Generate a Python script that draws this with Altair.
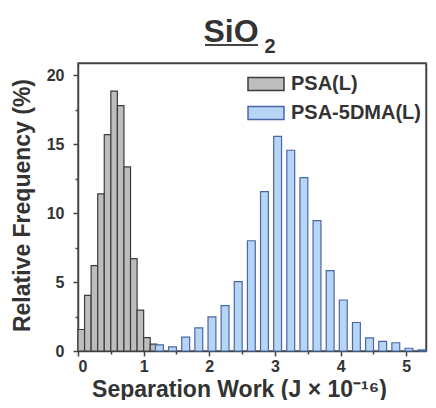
import altair as alt
import pandas as pd

# ---- data ----
series_names = ["PSA(L)", "PSA-5DMA(L)"]

gray_centers = [0.05, 0.15, 0.25, 0.35, 0.45, 0.55, 0.65, 0.75, 0.85, 0.95, 1.05, 1.15]
gray_values = [1.56, 4.04, 6.2, 11.4, 15.7, 18.86, 17.8, 13.36, 6.7, 2.97, 0.97, 0.5]

blue_centers = [1.24, 1.44, 1.64, 1.84, 2.04, 2.24, 2.44, 2.64, 2.84, 3.04, 3.24,
                3.44, 3.64, 3.84, 4.04, 4.24, 4.44, 4.64, 4.84, 5.04, 5.24]
blue_values = [0.45, 0.3, 1.0, 1.68, 2.48, 3.3, 5.04, 8.0, 11.56, 15.57, 14.57,
               12.58, 9.46, 5.84, 3.7, 2.07, 0.95, 0.7, 0.6, 0.2, 0.08]

x_ticks = [0, 1, 2, 3, 4, 5]
x_minor = [0.5, 1.5, 2.5, 3.5, 4.5]
y_ticks = [0, 5, 10, 15, 20]
y_minor = [2.5, 7.5, 12.5, 17.5]

title_main = "SiO"
title_sub = "2"
x_title = "Separation Work (J \u00d7 10\u207b\u00b9\u2076)"
y_title = "Relative Frequency (%)"

FONT = "Liberation Sans"
TXT = "#333333"
AX = "#444444"

df = pd.DataFrame({
    "center": gray_centers + blue_centers,
    "freq": gray_values + blue_values,
    "series": [series_names[0]] * len(gray_centers) + [series_names[1]] * len(blue_centers),
})

xscale = alt.Scale(domain=[0, 5.3], nice=False, zero=False)
yscale = alt.Scale(domain=[0, 20.9], nice=False)

legend = alt.Legend(
    title=None, orient="none", legendX=169, legendY=2,
    symbolType="M-1,-0.36H1V0.36H-1Z", symbolSize=1296, symbolStrokeWidth=1.5,
    labelFont=FONT, labelFontSize=20, labelFontWeight="bold", labelColor=TXT,
    labelOffset=6, rowPadding=0,
)

bars = alt.Chart(df).transform_calculate(
    x0="datum.center - (datum.series == 'PSA(L)' ? 0.05 : 0.06)",
    x1="datum.center + (datum.series == 'PSA(L)' ? 0.05 : 0.06)",
).mark_bar(strokeWidth=1.2).encode(
    x=alt.X("x0:Q", scale=xscale, axis=alt.Axis(
        values=x_ticks, format="d", orient="bottom", title=x_title,
        tickSize=5, labelPadding=2, labelFontSize=16,
        titleFontSize=23, titleX=161, titleY=45, titleBaseline="alphabetic",
    )),
    x2="x1:Q",
    y=alt.Y("freq:Q", scale=yscale, axis=alt.Axis(
        values=y_ticks, orient="left", title=y_title,
        tickSize=5, labelPadding=9, labelFontSize=16,
        titleFontSize=23, titleX=-44, titleY=142,
    )),
    y2=alt.datum(0),
    fill=alt.Fill("series:N", scale=alt.Scale(domain=series_names, range=["#bdbdbd", "#b7d5f5"]), legend=legend),
    stroke=alt.Stroke("series:N", scale=alt.Scale(domain=series_names, range=["#3c3c3c", "#4a68a8"]), legend=legend),
)

minor = alt.Chart(df).mark_point(opacity=0).encode(
    x=alt.X("center:Q", scale=xscale, axis=alt.Axis(
        values=x_minor, labels=False, orient="bottom", title=None, tickSize=3, domain=False)),
    y=alt.Y("freq:Q", scale=yscale, axis=alt.Axis(
        values=y_minor, labels=False, orient="left", title=None, tickSize=3, domain=False)),
)

frame = alt.Chart(df).mark_point(opacity=0).encode(
    x=alt.X("center:Q", scale=xscale, axis=alt.Axis(
        orient="top", labels=False, ticks=False, title=None, domain=True)),
    y=alt.Y("freq:Q", scale=yscale, axis=alt.Axis(
        orient="right", labels=False, ticks=False, title=None, domain=True)),
)

tdf = pd.DataFrame({"t": [title_main]})
title1 = alt.Chart(tdf).mark_text(
    font=FONT, fontSize=32, fontWeight="bold", color=TXT, align="center", baseline="alphabetic"
).encode(x=alt.value(153), y=alt.value(-21), text="t:N")

sdf = pd.DataFrame({"t": [title_sub]})
title2 = alt.Chart(sdf).mark_text(
    font=FONT, fontSize=20, fontWeight="bold", color=TXT, align="center", baseline="alphabetic"
).encode(x=alt.value(192), y=alt.value(-10), text="t:N")

underline = alt.Chart(pd.DataFrame({"a": [0]})).mark_rule(color="#444444", strokeWidth=2).encode(
    x=alt.value(127), x2=alt.value(180), y=alt.value(-18)
)

chart = alt.layer(bars, minor, frame, title1, title2, underline).resolve_axis(
    x="independent", y="independent"
).properties(
    width=348, height=288,
    autosize=alt.AutoSizeParams(type="none"),
    padding={"left": 70, "top": 55, "right": 2, "bottom": 49},
).configure_view(
    stroke="#555555", strokeWidth=1.5
).configure_axis(
    grid=False, domainColor=AX, domainWidth=1.5, tickColor=AX, tickWidth=1.5,
    labelFont=FONT, labelFontWeight="bold", labelColor=TXT,
    titleFont=FONT, titleFontWeight="bold", titleColor=TXT,
)

chart.save("out.html", embed_options={"renderer": "svg", "actions": False})
